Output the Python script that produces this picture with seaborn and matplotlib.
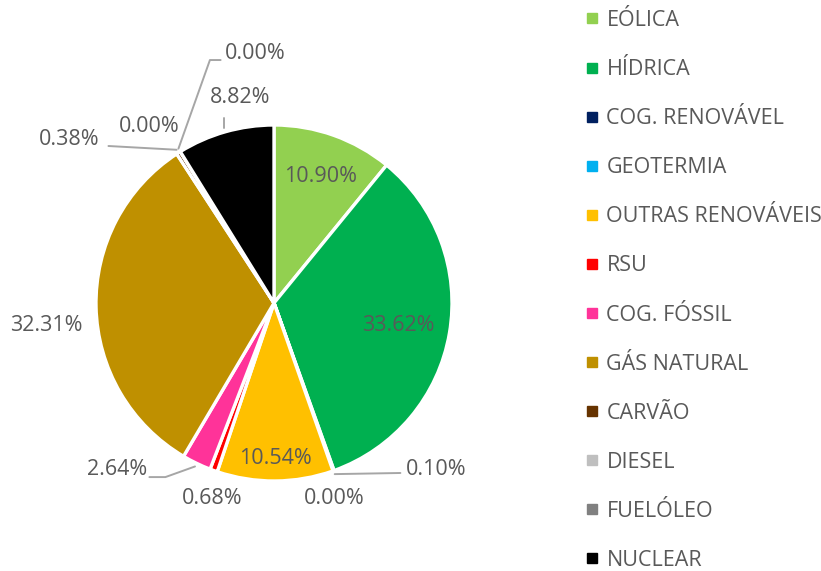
import numpy as np
import matplotlib
matplotlib.use("Agg")
import matplotlib.pyplot as plt
from matplotlib.lines import Line2D
import seaborn as sns

# data
categories = ["EÓLICA", "HÍDRICA", "COG. RENOVÁVEL", "GEOTERMIA", "OUTRAS RENOVÁVEIS",
              "RSU", "COG. FÓSSIL", "GÁS NATURAL", "CARVÃO", "DIESEL", "FUELÓLEO", "NUCLEAR"]
shares = [10.90, 33.62, 0.10, 0.00, 10.54, 0.68, 2.64, 32.31, 0.38, 0.00, 0.00, 8.82]
colors = ["#92D050", "#00B050", "#002060", "#00B0F0", "#FFC000", "#FF0000",
          "#FF3399", "#BF9000", "#663300", "#BFBFBF", "#808080", "#000000"]

# label placement (in pie-radius units), like manual Excel label positions
label_xy = [(0.26, 0.73), (0.70, -0.107), (0.91, -0.92), (0.34, -1.08),
            (0.006, -0.854), (-0.35, -1.08), (-0.88, -0.92), (-1.28, -0.112),
            (-1.15, 0.933), (-0.70, 1.006), (-0.107, 1.42), (-0.19, 1.17)]
# leader line bend points
leaders = {2: [(0.71, -0.955)],
           6: [(-0.61, -0.978), (-0.70, -0.978)],
           8: [(-0.93, 0.882)],
           10: [(-0.36, 1.365), (-0.30, 1.365)],
           11: "vertical"}

sns.set_theme(style="white")
plt.rcParams["font.family"] = ["Open Sans", "DejaVu Sans"]

W, H = 821, 571
R = 178
cx, cy = 274, 303
fig = plt.figure(figsize=(W / 100, H / 100), dpi=100)
half = 1.5
ax = fig.add_axes([(cx - half * R) / W, (H - cy - half * R) / H, 2 * half * R / W, 2 * half * R / H])

wedges, _ = ax.pie(shares, colors=colors, startangle=90, counterclock=False, radius=1,
                   wedgeprops=dict(edgecolor="white", linewidth=2.4))
ax.set_xlim(-half, half)
ax.set_ylim(-half, half)
ax.axis("off")

text_col = "#595959"
for i, (w, v) in enumerate(zip(wedges, shares)):
    tx, ty = label_xy[i]
    ax.text(tx, ty - 0.017, f"{v:.2f}%", ha="center", va="center", fontsize=15.5,
            color=text_col, clip_on=False)
    if i in leaders:
        mid = np.deg2rad((w.theta1 + w.theta2) / 2)
        ax0, ay0 = 1.02 * np.cos(mid), 1.02 * np.sin(mid)
        if leaders[i] == "vertical":
            pts = [(ax0, ay0), (ax0, 1.04)]
        else:
            pts = [(ax0, ay0)] + leaders[i]
        xs, ys = zip(*pts)
        ax.plot(xs, ys, color="#A6A6A6", lw=1.4, clip_on=False, zorder=5)

handles = [Line2D([], [], marker="s", ls="", color=c, markersize=6.5) for c in colors]
fig.legend(handles, categories, loc="upper left", bbox_to_anchor=(586 / W, 1 - 10 / H),
           frameon=False, fontsize=15.5, labelcolor=text_col, labelspacing=1.305,
           handlelength=0.6, handletextpad=0.35, borderpad=0, borderaxespad=0)

fig.savefig("out.png", dpi=100)
